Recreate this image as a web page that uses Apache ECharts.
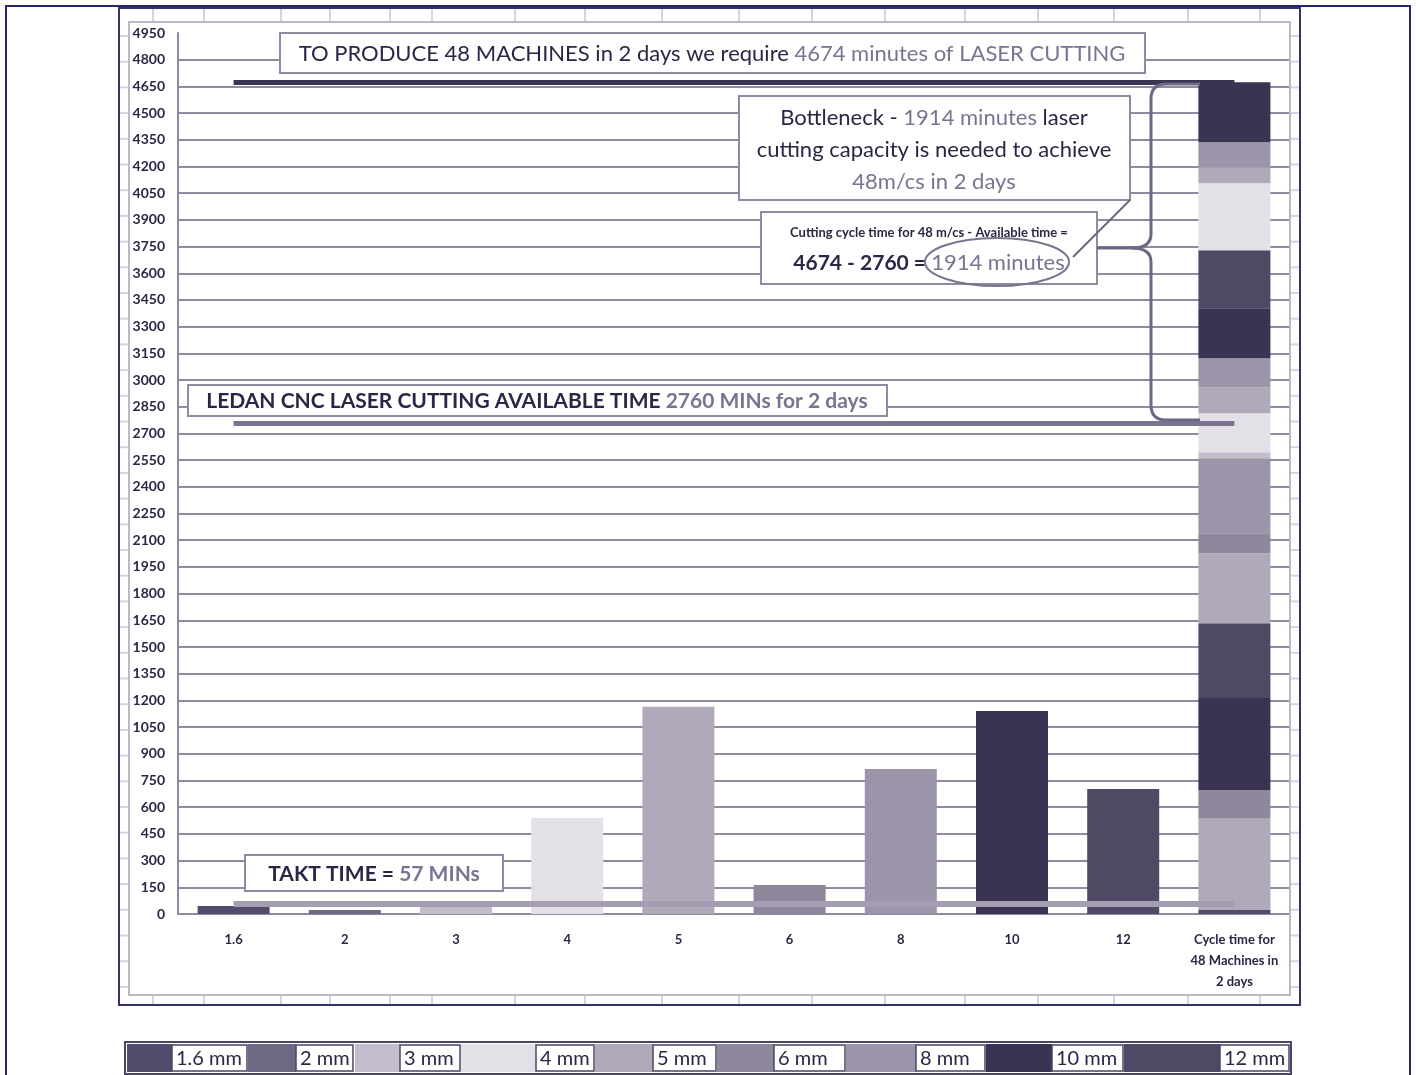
<!DOCTYPE html>
<html>
<head>
<meta charset="utf-8">
<script src="https://cdn.jsdelivr.net/npm/echarts@6/dist/echarts.min.js"></script>
<style>
html,body{margin:0;padding:0;background:#fff;}
#chart{width:1416px;height:1075px;}
</style>
</head>
<body>
<div id="chart"></div>
<script>
// ---------- DATA ----------
const categories = ['1.6', '2', '3', '4', '5', '6', '8', '10', '12', 'Cycle time for\n48 Machines in\n2 days'];
const thicknesses = ['1.6 mm', '2 mm', '3 mm', '4 mm', '5 mm', '6 mm', '8 mm', '10 mm', '12 mm'];
const barValues = [45, 22, 50, 540, 1165, 163, 815, 1141, 702];
// stacked "cycle time for 48 machines" column, bottom to top
const stackThickness = ['1.6 mm', '5 mm', '6 mm', '10 mm', '12 mm', '5 mm', '6 mm', '8 mm', '3 mm', '4 mm', '5 mm', '8 mm', '10 mm', '12 mm', '4 mm', '5 mm', '8 mm', '10 mm'];
const stackValues = [22, 517, 157, 517, 421, 393, 112, 421, 34, 219, 146, 163, 281, 326, 377, 90, 140, 337];
const requiredTime = 4674;
const availableTime = 2760;
const taktTime = 57;
const yTicks = { min: 0, max: 4950, interval: 150 };

// ---------- STYLE ----------
const palette = {
  '1.6 mm': '#534b6b', '2 mm': '#6f6882', '3 mm': '#c3bdcb', '4 mm': '#e4e0e8',
  '5 mm': '#b0a9ba', '6 mm': '#8f879b', '8 mm': '#9c94a8', '10 mm': '#3a3352', '12 mm': '#504966'
};
const DARK = '#2b2645', GREY = '#7a7391', LINE = '#8f89a2';
const FONT = 'Lato, "Open Sans", sans-serif';

const chart = echarts.init(document.getElementById('chart'), null, { renderer: 'canvas' });
const last = categories.length - 1;

const series = [];
series.push({
  name: 'bars', type: 'bar', stack: 'all', barWidth: 72,
  data: categories.map((c, i) => i < barValues.length
    ? { value: barValues[i], itemStyle: { color: palette[thicknesses[i]] } } : '-'),
  markLine: {
    silent: true, symbol: 'none', z: 6,
    label: { show: false },
    data: [
      [{ coord: [categories[0], requiredTime], lineStyle: { color: '#3a3352', width: 5, type: 'solid' } },
       { coord: [categories[last], requiredTime] }],
      [{ coord: [categories[0], availableTime], lineStyle: { color: '#7b7390', width: 5, type: 'solid' } },
       { coord: [categories[last], availableTime] }],
      [{ coord: [categories[0], taktTime], lineStyle: { color: '#a59eb2', width: 6, type: 'solid' } },
       { coord: [categories[last], taktTime] }]
    ]
  }
});
stackValues.forEach((v, k) => {
  series.push({
    name: 'seg' + k, type: 'bar', stack: 'all', barWidth: 72,
    itemStyle: { color: palette[stackThickness[k]] },
    data: categories.map((c, i) => i === last ? v : '-')
  });
});

const nTicks = Math.round((yTicks.max - yTicks.min) / yTicks.interval) + 1;
const splitColors = [];
for (let i = 0; i < nTicks; i++) splitColors.push(i === nTicks - 1 ? 'rgba(0,0,0,0)' : LINE);

// ---------- GRAPHICS (frames, annotations, legend) ----------
const g = [];
// page frame
g.push({ type: 'polyline', z: 100, shape: { points: [[6, 1080], [6, 6], [1410, 6], [1410, 1080]] }, style: { stroke: '#26266e', lineWidth: 2, fill: null } });
// excel cell fragments
const colXs = [153, 204, 281, 330, 390, 432, 515, 585, 662, 739, 812, 885, 965, 1038, 1114, 1188, 1260];
colXs.forEach(x => {
  g.push({ type: 'line', z: 0, shape: { x1: x, y1: 8, x2: x, y2: 22 }, style: { stroke: '#d6d3de', lineWidth: 2 } });
  g.push({ type: 'line', z: 0, shape: { x1: x, y1: 995, x2: x, y2: 1005 }, style: { stroke: '#d6d3de', lineWidth: 2 } });
});
for (let y = 36; y < 995; y += 25.7) {
  g.push({ type: 'line', z: 0, shape: { x1: 119, y1: y, x2: 128, y2: y }, style: { stroke: '#d6d3de', lineWidth: 2 } });
  g.push({ type: 'line', z: 0, shape: { x1: 1290, y1: y, x2: 1300, y2: y }, style: { stroke: '#d6d3de', lineWidth: 2 } });
}
// chart box and plot box
g.push({ type: 'rect', z: 1, shape: { x: 119, y: 8, width: 1181, height: 997 }, style: { fill: null, stroke: '#33336f', lineWidth: 2 } });
g.push({ type: 'rect', z: 1, shape: { x: 129, y: 22, width: 1161, height: 973 }, style: { fill: null, stroke: '#bdb8c8', lineWidth: 2 } });

function box(x, y, w, h) {
  g.push({ type: 'rect', z: 50, shape: { x: x, y: y, width: w, height: h }, style: { fill: '#fff', stroke: '#8f89a2', lineWidth: 2 } });
}
function rtext(x, y, text, rich) {
  g.push({ type: 'text', z: 51, x: x, y: y, style: { text: text, rich: rich, align: 'center', verticalAlign: 'middle', font: '22px ' + FONT } });
}
const R = {
  d: { fontSize: 21, fontFamily: FONT, fill: DARK, fontWeight: 'bold' },
  g: { fontSize: 21, fontFamily: FONT, fill: GREY, fontWeight: 'bold' },
  dn: { fontSize: 22, fontFamily: FONT, fill: DARK },
  gn: { fontSize: 22, fontFamily: FONT, fill: GREY },
  s: { fontSize: 13, fontFamily: FONT, fill: DARK, fontWeight: 'bold' }
};
// Box 1
box(280, 33, 865, 40);
rtext(712, 54, '{dn|TO PRODUCE 48 MACHINES in 2 days we require }{gn|4674 minutes of LASER CUTTING}', R);
// Box 2
box(188, 385, 699, 31);
rtext(537, 401, '{d|LEDAN CNC LASER CUTTING AVAILABLE TIME }{g|2760 MINs for 2 days}', R);
// Bottleneck box
box(739, 96, 391, 104);
rtext(934, 118, '{dn|Bottleneck - }{gn|1914 minutes}{dn| laser}', R);
rtext(934, 150, '{dn|cutting capacity is needed to achieve}', R);
rtext(934, 182, '{gn|48m/cs in 2 days}', R);
// Cycle box
box(761, 212, 336, 72);
rtext(929, 233, '{s|Cutting cycle time for 48 m/cs - Available time =}', R);
rtext(929, 263, '{d|4674 - 2760 = }{gn|1914 minutes}', R);
g.push({ type: 'ellipse', z: 52, shape: { cx: 997, cy: 262, rx: 72, ry: 24 }, style: { fill: null, stroke: '#7b7390', lineWidth: 2 } });
g.push({ type: 'line', z: 52, shape: { x1: 1073, y1: 257, x2: 1130, y2: 200 }, style: { stroke: '#6e6784', lineWidth: 2 } });
// brace
const BR = { stroke: '#6e6784', lineWidth: 3, fill: null };
g.push({ type: 'line', z: 52, shape: { x1: 1166, y1: 84, x2: 1200, y2: 84 }, style: BR });
g.push({ type: 'bezierCurve', z: 52, shape: { x1: 1166, y1: 84, cpx1: 1151, cpy1: 84, x2: 1151, y2: 99 }, style: BR });
g.push({ type: 'line', z: 52, shape: { x1: 1151, y1: 99, x2: 1151, y2: 234 }, style: BR });
g.push({ type: 'bezierCurve', z: 52, shape: { x1: 1151, y1: 234, cpx1: 1151, cpy1: 248, x2: 1132, y2: 248 }, style: BR });
g.push({ type: 'bezierCurve', z: 52, shape: { x1: 1132, y1: 248, cpx1: 1151, cpy1: 248, x2: 1151, y2: 262 }, style: BR });
g.push({ type: 'line', z: 52, shape: { x1: 1151, y1: 262, x2: 1151, y2: 405 }, style: BR });
g.push({ type: 'bezierCurve', z: 52, shape: { x1: 1151, y1: 405, cpx1: 1151, cpy1: 420, x2: 1166, y2: 420 }, style: BR });
g.push({ type: 'line', z: 52, shape: { x1: 1166, y1: 420, x2: 1200, y2: 420 }, style: BR });
g.push({ type: 'line', z: 52, shape: { x1: 1097, y1: 248, x2: 1132, y2: 248 }, style: BR });
// Takt box
box(245, 855, 258, 36);
rtext(374, 874, '{d|TAKT TIME = }{g|57 MINs}', R);

// legend table
const legendCells = [[127, 172, 247], [248, 296, 353], [355, 400, 460], [461, 536, 594], [595, 653, 716], [717, 774, 845], [846, 916, 985], [986, 1052, 1123], [1124, 1220, 1289]];
g.push({ type: 'rect', z: 40, shape: { x: 125, y: 1042, width: 1166, height: 32 }, style: { fill: '#fff', stroke: '#4a4566', lineWidth: 2 } });
thicknesses.forEach((t, i) => {
  const c = legendCells[i];
  g.push({ type: 'rect', z: 41, shape: { x: c[0], y: 1044, width: c[1] - c[0], height: 28 }, style: { fill: palette[t], stroke: null } });
  g.push({ type: 'rect', z: 41, shape: { x: c[1], y: 1045, width: c[2] - c[1], height: 26 }, style: { fill: '#fff', stroke: '#4a4566', lineWidth: 1.5 } });
  g.push({ type: 'text', z: 42, x: c[1] + 4, y: 1059, style: { text: t, font: '20px ' + FONT, fill: '#2b2645', verticalAlign: 'middle', align: 'left' } });
});

chart.setOption({
  animation: false,
  backgroundColor: '#fff',
  grid: { left: 178, top: 33, width: 1112, height: 881, containLabel: false },
  xAxis: {
    type: 'category', data: categories,
    axisLine: { show: true, lineStyle: { color: LINE, width: 2 } },
    axisTick: { show: false },
    axisLabel: { margin: 15, color: DARK, fontFamily: FONT, fontWeight: 'bold', fontSize: 13, lineHeight: 21, interval: 0 }
  },
  yAxis: {
    type: 'value', min: yTicks.min, max: yTicks.max, interval: yTicks.interval,
    axisLine: { show: true, lineStyle: { color: LINE, width: 2 } },
    axisTick: { show: false },
    splitLine: { show: true, lineStyle: { color: splitColors, width: 2 } },
    axisLabel: { margin: 13, color: DARK, fontFamily: FONT, fontWeight: 'bold', fontSize: 14, formatter: v => String(v) }
  },
  series: series,
  graphic: g
});
</script>
</body>
</html>
